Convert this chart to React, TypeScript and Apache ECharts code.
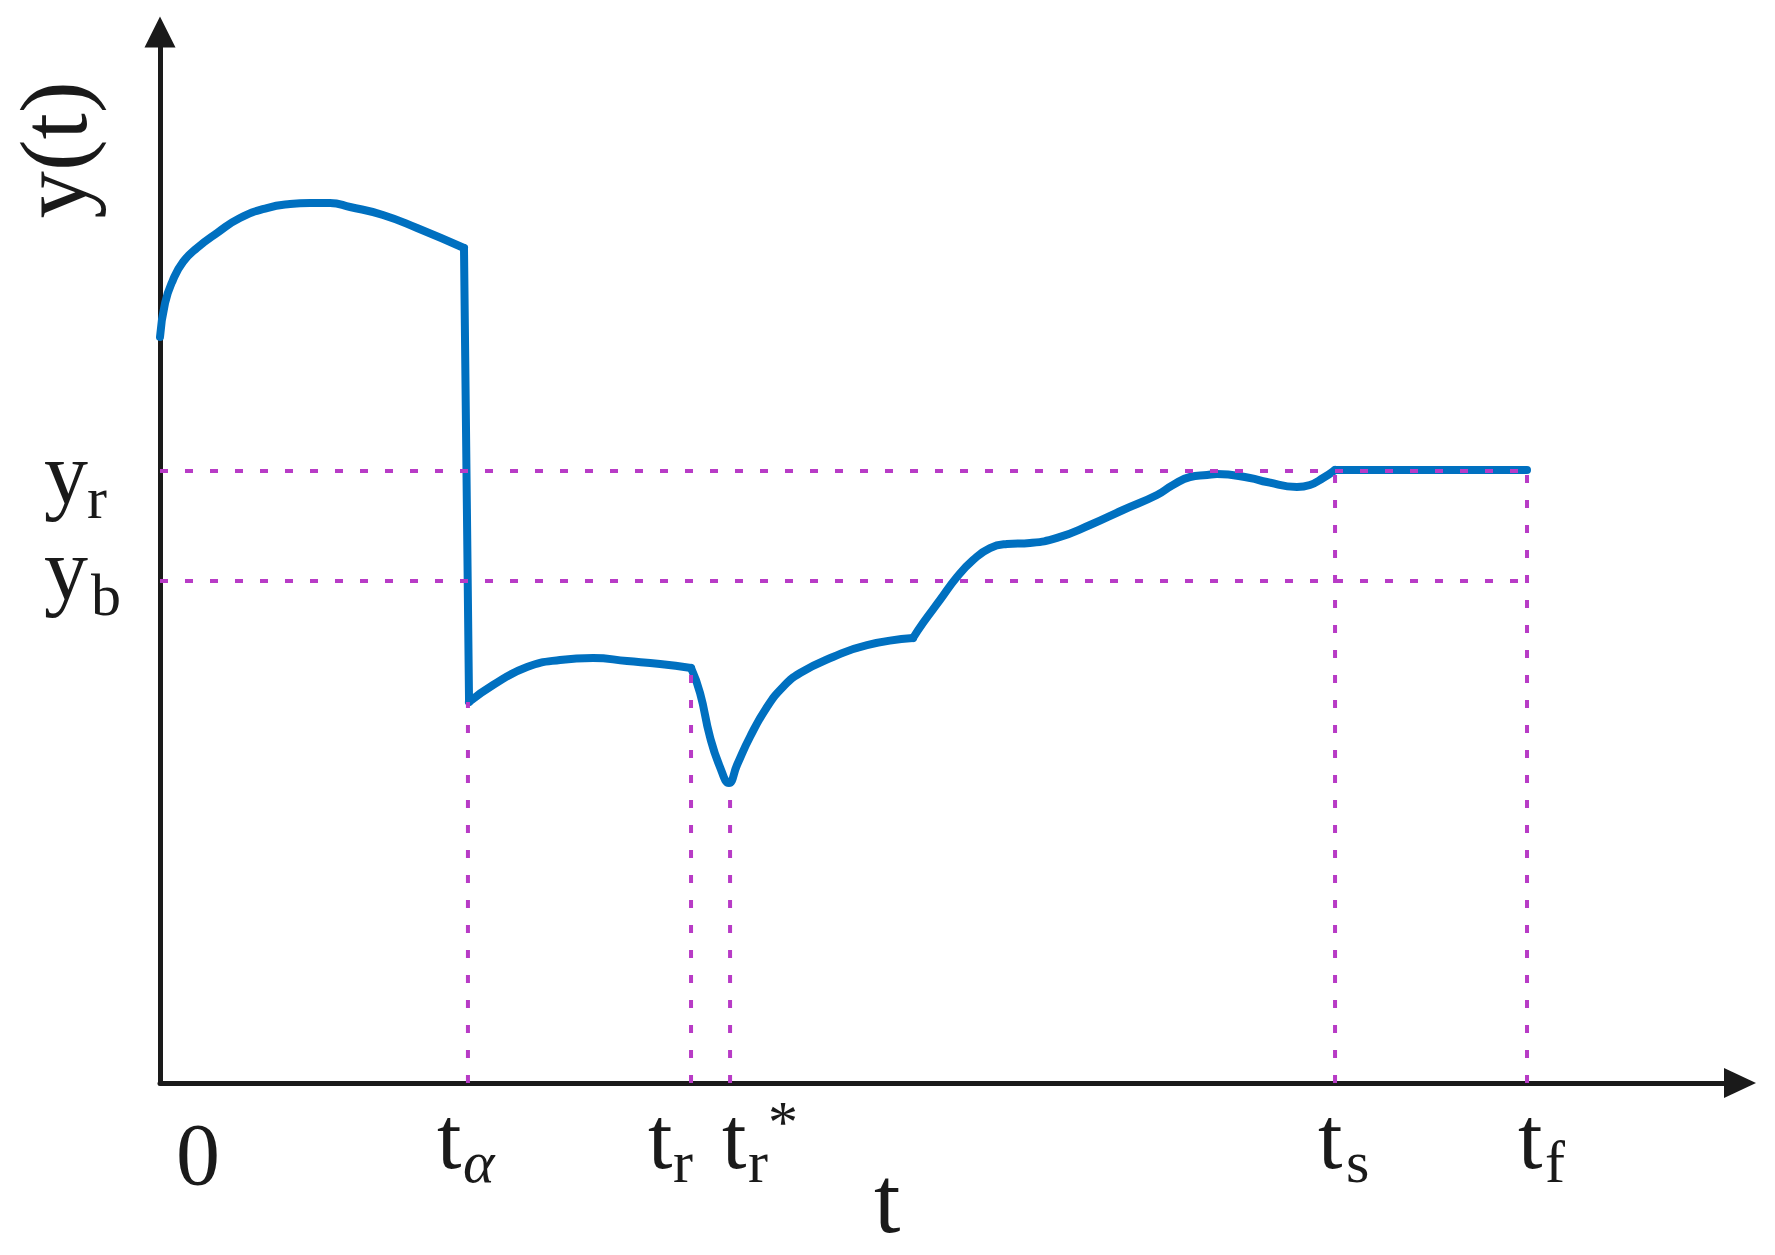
import React, { useEffect, useRef } from 'react';
import * as echarts from 'echarts';

// Event times on the t axis: 0, tα, tr, tr*, ts, tf
const tEvents = [0, 19.49, 33.61, 36.08, 74.37, 86.52];
const tMain = ['0', 't', 't', 't', 't', 't'];
const tSub = ['', 'α', 'r', 'r', 's', 'f'];
const tSup = ['', '', '', '*', '', ''];
// Curve value reached at each event (top of its dotted drop line)
const curveAtEvent = [0, 36.25, 39.49, 28.54, 58.23, 58.23];

// Reference levels: yr, yb
const yLevels = [58.23, 47.76];
const yMain = ['y', 'y'];
const ySub = ['r', 'b'];

const axisTitleX = 't';
const axisTitleY = 'y(t)';

// Response y(t), piece by piece
const arcSeg = [
  [0, 70.98], [0.32, 74.21], [0.82, 76.4], [1.46, 78.12], [2.34, 79.45], [3.61, 80.88],
  [5.06, 82.3], [6.77, 83.25], [8.23, 83.63], [9.49, 83.73], [10.76, 83.73], [12.03, 83.35],
  [14.11, 82.59], [16.27, 81.35], [19.24, 79.45],
];
const dropSeg = [[19.24, 79.45], [19.56, 36.25]];
const recoverySeg = [
  [19.56, 36.25], [21.08, 37.87], [23.23, 39.58], [25.32, 40.25], [27.41, 40.44],
  [29.56, 40.15], [31.65, 39.87], [33.61, 39.49],
];
const dipSeg = [
  [33.61, 39.49], [34.18, 37.11], [34.81, 32.92], [35.44, 30.07], [36.01, 28.54],
  [36.52, 30.26], [37.34, 32.92], [38.42, 35.78], [39.43, 37.68], [40.51, 39.01],
  [42.59, 40.53], [44.75, 41.67], [47.66, 42.34],
];
const riseSeg = [
  [47.66, 42.34], [48.29, 43.77], [49.37, 45.96], [50.44, 48.14], [51.46, 49.76],
  [52.53, 50.9], [53.61, 51.28], [55.06, 51.38], [56.77, 51.86], [58.86, 53.09],
  [60.95, 54.52], [63.1, 55.95], [64.11, 56.9], [65.19, 57.66], [66.27, 57.85],
  [66.9, 57.94], [68.99, 57.56], [70.06, 57.18], [71.96, 56.71], [72.78, 56.9],
  [73.61, 57.56], [74.37, 58.33],
];
const settledSeg = [[74.37, 58.33], [86.52, 58.33]];

const curveSegments = [arcSeg, dropSeg, recoverySeg, dipSeg, riseSeg, settledSeg];

const BLUE = '#0070C0';
const MAGENTA = '#B83BC6';
const INK = '#1a1a1a';
const FONT = '"Liberation Serif", "Times New Roman", Times, serif';
const CENTRAL = 0.3375;

function txt(text: string, x: number, baseline: number, size: number, italic = false, rotation = 0, align = 'left') {
  return {
    type: 'text',
    x,
    y: rotation ? baseline : baseline - CENTRAL * size,
    rotation,
    silent: true,
    z: 10,
    style: {
      text,
      fontSize: size,
      fontFamily: FONT,
      fontStyle: italic ? 'italic' : 'normal',
      fill: INK,
      align,
      textAlign: align,
      verticalAlign: 'middle',
      textVerticalAlign: 'middle',
    },
  };
}

export default function App() {
  const ref = useRef<HTMLDivElement>(null);
  useEffect(() => {
    const el = ref.current!;
    const chart = echarts.init(el, null, { renderer: 'svg' });

    const curveSeries = curveSegments.map((seg) => ({
      type: 'line',
      data: seg,
      symbol: 'none',
      showSymbol: false,
      silent: true,
      smooth: seg.length > 2 ? 0.5 : false,
      lineStyle: { color: BLUE, width: 8, cap: 'round', join: 'round' },
      z: 2,
    }));

    const guides: number[][][] = [
      ...yLevels.map((v) => [[0, v], [tEvents[5], v]]),
      ...tEvents.slice(1).map((t, i) => [[t, 0], [t, curveAtEvent[i + 1]]]),
    ];
    const guideSeries = guides.map((g) => ({
      type: 'line',
      data: g,
      symbol: 'none',
      showSymbol: false,
      silent: true,
      lineStyle: { color: MAGENTA, width: 4, type: [8, 17], cap: 'butt' },
      z: 3,
    }));

    const axisCommon = {
      type: 'value',
      min: 0,
      max: 100,
      axisTick: { show: false },
      axisLabel: { show: false },
      splitLine: { show: false },
    };

    chart.setOption({
      animation: false,
      backgroundColor: '#ffffff',
      grid: { left: 160, right: 35, top: 32, bottom: 172, containLabel: false, outerBoundsMode: 'none' },
      xAxis: {
        ...axisCommon,
        axisLine: {
          show: true,
          onZero: false,
          symbol: ['none', 'triangle'],
          symbolSize: [30, 32],
          lineStyle: { color: INK, width: 5 },
        },
      },
      yAxis: {
        ...axisCommon,
        axisLine: {
          show: true,
          onZero: false,
          symbol: ['none', 'triangle'],
          symbolSize: [31, 31],
          lineStyle: { color: INK, width: 5 },
        },
      },
      series: [...curveSeries, ...guideSeries],
    });

    const toPx = (x: number, y: number) => chart.convertToPixel({ gridIndex: 0 }, [x, y]) as number[];
    const origin = toPx(0, 0);
    const axisY = origin[1];
    const axisX = origin[0];

    // label layout offsets (pixels relative to anchors)
    const mainDx = [16, -31, -43, -8, -17, -9];
    const mainDy = [101, 85, 85, 85, 85, 85];
    const subDx = [0, -5, -18, 18, 11, 18];
    const subDy = 99;
    const supDx = [0, 0, 0, 38, 0, 0];
    const supDy = 59;

    const elements: any[] = [];
    tEvents.forEach((t, i) => {
      const px = toPx(t, 0)[0];
      elements.push(txt(tMain[i], px + mainDx[i], axisY + mainDy[i], 88));
      if (tSub[i]) elements.push(txt(tSub[i], px + subDx[i], axisY + subDy, 60, tSub[i] === 'α'));
      if (tSup[i]) elements.push(txt(tSup[i], px + supDx[i], axisY + supDy, 60));
    });

    const yMainDy = [32, 18];
    const ySubDy = [47, 34];
    const ySubDx = [-73, -69];
    yLevels.forEach((v, i) => {
      const py = toPx(0, v)[1];
      elements.push(txt(yMain[i], axisX - 116, py + yMainDy[i], 88));
      elements.push(txt(ySub[i], axisX + ySubDx[i], py + ySubDy[i], 60));
    });

    elements.push(txt(axisTitleX, 874, axisY + 149, 95));
    elements.push(txt(axisTitleY, 86 - CENTRAL * 95, 150, 95, false, Math.PI / 2, 'center'));

    chart.setOption({ graphic: { elements } });

    return () => chart.dispose();
  }, []);

  return (
    <div
      ref={ref}
      style={{ position: 'fixed', left: 0, top: 0, width: 1775, height: 1255, background: '#ffffff' }}
    />
  );
}
